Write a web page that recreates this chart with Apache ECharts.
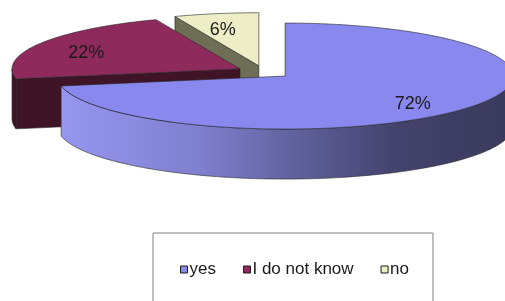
<!DOCTYPE html>
<html>
<head>
<meta charset="utf-8">
<script src="https://cdn.jsdelivr.net/npm/echarts@6/dist/echarts.min.js"></script>
<style>
  html, body { margin: 0; padding: 0; background: #fff; }
  #main { width: 505px; height: 301px; }
</style>
</head>
<body>
<div id="main"></div>
<script>
// data
var categories = ['yes', 'I do not know', 'no'];
var values = [72, 22, 6];

// looks
var topColors = ['#8888ee', '#8e2a5c', '#eeeec6'];
var faceColors = ['#5a5a96', '#3e1426', '#6e6e56'];
var wallColors = [
    new echarts.graphic.LinearGradient(0, 0, 1, 0, [
        { offset: 0, color: '#9696f0' },
        { offset: 0.3, color: '#8080d0' },
        { offset: 0.55, color: '#5c5c96' },
        { offset: 0.75, color: '#42426c' },
        { offset: 1, color: '#3a3a5c' }
    ]),
    '#3e1426',
    '#6e6e56'
];

var CX = 264, CY = 72;     // pie centre
var RX = 228, RY = 53;     // ellipse radii of the top face
var DEPTH = 50;            // thickness
var EXPLODE = 0.12;
var LABEL_R = 0.75;

var total = values.reduce(function (a, b) { return a + b; }, 0);
// angles in degrees, counter-clockwise, start at 12 o'clock going clockwise
var ranges = [];
(function () {
    var a = 90;
    for (var i = 0; i < values.length; i++) {
        var sweep = values[i] / total * 360;
        ranges.push([a - sweep, a]);
        a -= sweep;
    }
})();

function rad(d) { return d * Math.PI / 180; }
function rim(cx, cy, a, dz) {
    return [cx + RX * Math.cos(rad(a)), cy - RY * Math.sin(rad(a)) + (dz || 0)];
}
function arc(cx, cy, a0, a1, dz) {
    var pts = [];
    var n = Math.max(2, Math.ceil(Math.abs(a1 - a0)));
    for (var k = 0; k <= n; k++) {
        pts.push(rim(cx, cy, a0 + (a1 - a0) * k / n, dz));
    }
    return pts;
}

var line = { stroke: '#262626', lineWidth: 0.6 };

function renderSlice(idx) {
    return function (params, api) {
        var s = ranges[idx][0], e = ranges[idx][1];
        var mid = (s + e) / 2;
        var cx = CX + RX * EXPLODE * Math.cos(rad(mid));
        var cy = CY - RY * EXPLODE * Math.sin(rad(mid));
        var base = idx === 0 ? 20 : (idx === 1 ? 10 : 0);
        var children = [];

        // radial cut faces, only the ones turned to the viewer
        [[s, Math.cos(rad(s)) > 0.01], [e, Math.cos(rad(e)) < -0.01]].forEach(function (f) {
            if (!f[1]) return;
            var p = rim(cx, cy, f[0]);
            children.push({
                type: 'polygon', z2: base + 1,
                shape: { points: [[cx, cy], p, [p[0], p[1] + DEPTH], [cx, cy + DEPTH]] },
                style: Object.assign({ fill: faceColors[idx] }, line)
            });
        });

        // outer wall, front half only
        [-360, 0, 360].forEach(function (k) {
            var v0 = Math.max(s, -180 + k), v1 = Math.min(e, 0 + k);
            if (v1 - v0 <= 0.01) return;
            var pts = arc(cx, cy, v0, v1, 0).concat(arc(cx, cy, v1, v0, DEPTH));
            children.push({
                type: 'polygon', z2: base + 2,
                shape: { points: pts },
                style: Object.assign({ fill: wallColors[idx] }, line)
            });
        });

        // top face
        children.push({
            type: 'polygon', z2: base + 3,
            shape: { points: [[cx, cy]].concat(arc(cx, cy, s, e, 0)) },
            style: Object.assign({ fill: topColors[idx] }, line)
        });

        // percentage label
        var pct = Math.round(api.value(0) / total * 100) + '%';
        children.push({
            type: 'text', z2: base + 4,
            style: {
                text: pct,
                x: cx + RX * LABEL_R * Math.cos(rad(mid)) - 4,
                y: cy - RY * LABEL_R * Math.sin(rad(mid)) + 3,
                align: 'center', verticalAlign: 'middle',
                fontSize: 18, fontFamily: '"Liberation Sans", Arial, sans-serif',
                fill: '#1a1a1a'
            }
        });

        return { type: 'group', children: children };
    };
}

var chart = echarts.init(document.getElementById('main'), null, { renderer: 'canvas' });

var series = categories.map(function (name, i) {
    return {
        type: 'custom',
        name: name,
        coordinateSystem: 'none',
        silent: true,
        itemStyle: { color: topColors[i] },
        data: [[values[i]]],
        renderItem: renderSlice(i)
    };
});

chart.setOption({
    animation: false,
    backgroundColor: '#fff',
    legend: {
        data: categories,
        left: 153,
        top: 233,
        orient: 'horizontal',
        icon: 'rect',
        itemWidth: 7,
        itemHeight: 7,
        itemGap: 27,
        padding: [28, 24, 40, 27],
        borderColor: '#808080',
        borderWidth: 1,
        itemStyle: { borderColor: '#1a1a1a', borderWidth: 1 },
        textStyle: { fontSize: 17, fontFamily: '"Liberation Sans", Arial, sans-serif', color: '#1a1a1a', padding: [0, 0, 0, -3] }
    },
    series: series
});
</script>
</body>
</html>
